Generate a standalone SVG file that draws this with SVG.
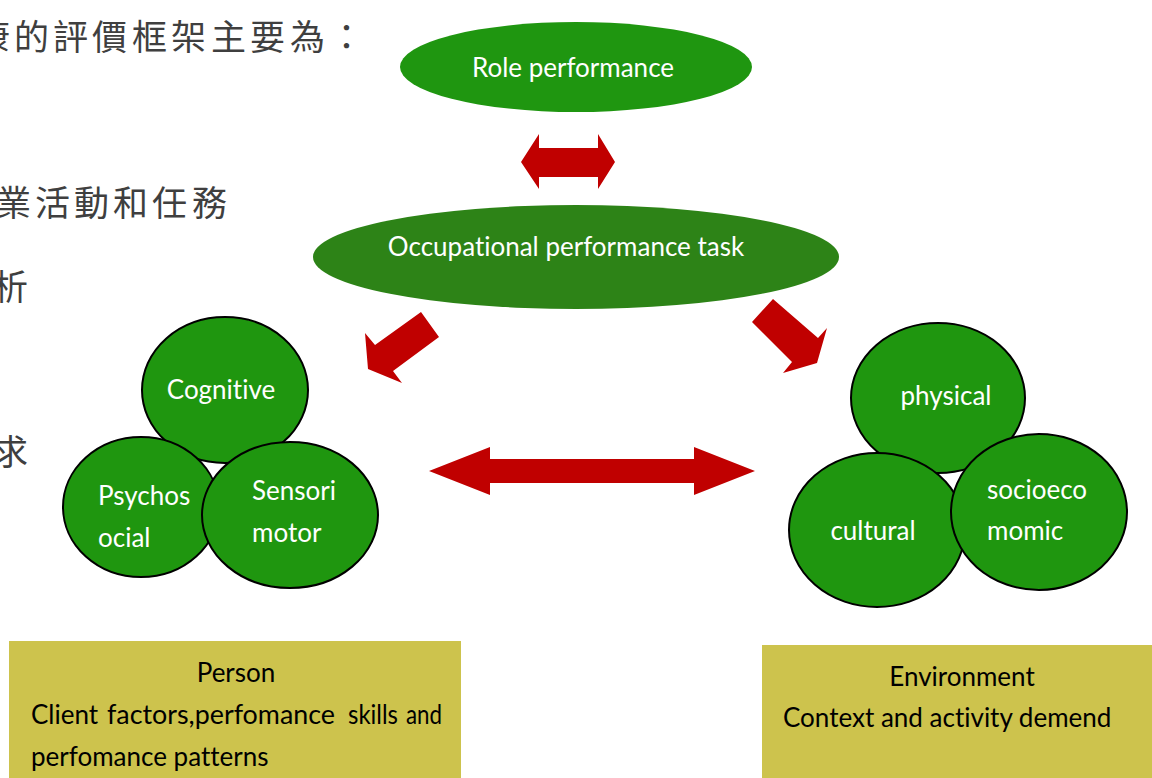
<svg xmlns="http://www.w3.org/2000/svg" width="1152" height="778" viewBox="0 0 1152 778">
  <defs>
    <style>
      .bg { fill: #ffffff; }
      .zh { font-family: "Noto Sans CJK TC", "Noto Sans CJK SC", sans-serif; font-size: 35px; fill: #3f3f3f; }
      .role { fill: #1f9610; }
      .task { fill: #2d8317; }
      .ball { fill: #1f960f; stroke: #000000; stroke-width: 2; }
      .lbl { font-family: Lato, "Liberation Sans", sans-serif; font-size: 26px; fill: #ffffff; font-variant-ligatures: none; }
      .box { fill: #cdc34d; }
      .cap { font-family: Lato, "Liberation Sans", sans-serif; font-size: 26px; fill: #000000; font-variant-ligatures: none; }
      .arrow { fill: #c00000; }
    </style>
  </defs>

  <rect class="bg" x="0" y="0" width="1152" height="778"/>

  <!-- slide body text, clipped at the left edge -->
  <g id="body-text">
    <text class="zh" x="-25 14 53 92 132 171 211 250 290 329" y="50">康的評價框架主要為：</text>
    <text class="zh" x="-4 35 74 113 152 192" y="216">業活動和任務</text>
    <text class="zh" x="-7" y="300">析</text>
    <text class="zh" x="-7" y="465">求</text>
  </g>

  <!-- connectors -->
  <g id="connectors">
    <!-- role <-> task -->
    <polygon class="arrow" points="521,162 539,134 539,148 598,148 598,134 615,162 598,189 598,177 539,177 539,189"/>
    <!-- task -> person -->
    <polygon class="arrow" points="421,312 439,337 393,371 402,383 368,369 365,333 375,345"/>
    <!-- task -> environment -->
    <polygon class="arrow" points="773,299 818,338 827,328 817,363 783,373 792,362 752,322"/>
    <!-- person <-> environment -->
    <polygon class="arrow" points="429,471 490,447 490,459 694,459 694,447 755,471 694,495 694,483 490,483 490,495"/>
  </g>

  <g id="role-performance">
    <ellipse class="role" cx="576" cy="67" rx="176" ry="45"/>
    <text class="lbl" x="573" y="77" text-anchor="middle">Role performance</text>
  </g>

  <g id="occupational-performance-task">
    <ellipse class="task" cx="576" cy="257" rx="263" ry="52"/>
    <text class="lbl" x="566" y="256" text-anchor="middle">Occupational performance task</text>
  </g>

  <!-- person components -->
  <g id="cognitive">
    <ellipse class="ball" cx="225" cy="390" rx="83" ry="73"/>
    <text class="lbl" x="221" y="399" text-anchor="middle">Cognitive</text>
  </g>
  <g id="psychosocial">
    <ellipse class="ball" cx="141" cy="507" rx="78" ry="70"/>
    <text class="lbl" x="98" y="505">Psychos</text>
    <text class="lbl" x="98" y="547">ocial</text>
  </g>
  <g id="sensorimotor">
    <ellipse class="ball" cx="290" cy="515" rx="88" ry="73"/>
    <text class="lbl" x="252" y="500">Sensori</text>
    <text class="lbl" x="252" y="542">motor</text>
  </g>

  <!-- environment components -->
  <g id="physical">
    <ellipse class="ball" cx="938" cy="398" rx="87" ry="75"/>
    <text class="lbl" x="946" y="405" text-anchor="middle">physical</text>
  </g>
  <g id="cultural">
    <ellipse class="ball" cx="877" cy="530" rx="88" ry="77"/>
    <text class="lbl" x="873" y="540" text-anchor="middle">cultural</text>
  </g>
  <g id="socioeconomic">
    <ellipse class="ball" cx="1039" cy="512" rx="88" ry="78"/>
    <text class="lbl" x="987" y="499">socioeco</text>
    <text class="lbl" x="987" y="540">momic</text>
  </g>

  <g id="person">
    <rect class="box" x="9" y="641" width="452" height="140"/>
    <text class="cap" x="236" y="682" text-anchor="middle">Person</text>
    <!-- justified line: words placed one by one -->
    <text class="cap" x="31" y="724">Client</text>
    <text class="cap" x="107" y="724" textLength="228" lengthAdjust="spacingAndGlyphs">factors,perfomance</text>
    <text class="cap" x="348" y="724" textLength="50" lengthAdjust="spacingAndGlyphs">skills</text>
    <text class="cap" x="406" y="724" textLength="36" lengthAdjust="spacingAndGlyphs">and</text>
    <text class="cap" x="31" y="766">perfomance patterns</text>
  </g>

  <g id="environment">
    <rect class="box" x="762" y="645" width="392" height="136"/>
    <text class="cap" x="962" y="686" text-anchor="middle">Environment</text>
    <text class="cap" x="783" y="727">Context and activity demend</text>
  </g>
</svg>
